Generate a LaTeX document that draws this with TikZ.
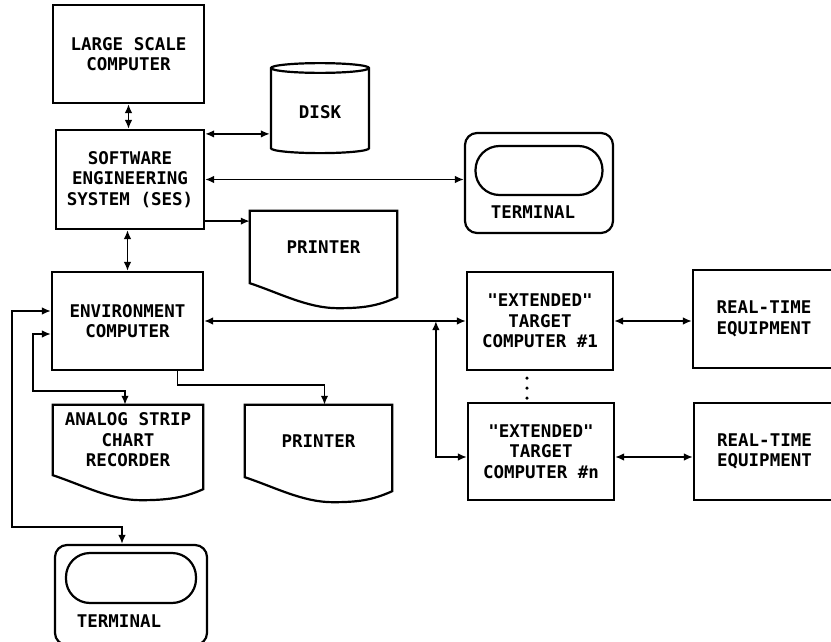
\documentclass[tikz,border=0pt]{standalone}
\usepackage{fontspec}
\setmonofont{DejaVu Sans Mono}
\usetikzlibrary{positioning,arrows.meta,shapes.geometric,calc}

% outline of a document symbol round a node
\newcommand{\docoutline}[1]{%
  \draw[line width=2.2pt] (#1.north west) -- (#1.north east) -- ($(#1.south east)+(0,14)$)
    .. controls +(-20,9) and +(25,0) .. ($(#1.south west)+(88,25)$)
    .. controls +(-30,0) and +(30,10) .. (#1.south west) -- cycle;}

\begin{document}
\begin{tikzpicture}[x=1pt, y=-1pt,
    every node/.style={font=\ttfamily\bfseries\fontsize{17.5}{20.5}\selectfont},
    box/.style={draw, line width=2.2pt, align=center, minimum width=150pt, minimum height=98pt},
    docbox/.style={align=center, minimum width=148pt, minimum height=72pt},
    term/.style={draw, line width=2.2pt, rounded corners=12pt, minimum width=150pt, minimum height=100pt},
    screen/.style={draw, line width=2.2pt, rounded corners=24pt, minimum width=128pt, minimum height=49pt},
    disk/.style={draw, line width=2.2pt, cylinder, shape border rotate=90, aspect=0.2, minimum width=98pt, minimum height=90pt},
    arrow/.style={-{Latex[length=9pt,width=7.5pt]}, line width=1.7pt},
    dbl/.style={{Latex[length=9pt,width=7.5pt]}-{Latex[length=9pt,width=7.5pt]}, line width=1.7pt}
]
\useasboundingbox (0,0) rectangle (831,642);
\clip (0,0) rectangle (831,642);
\fill[white] (0,0) rectangle (831,642);

% main column
\node[box, minimum width=151pt] (lsc) at (128.5,54) {LARGE SCALE\\COMPUTER};
\node[box, minimum width=148pt, minimum height=99pt] (ses) at (130,179.5) {SOFTWARE\\ENGINEERING\\SYSTEM (SES)};
\node[box, minimum width=151pt] (env) at (127.5,321) {ENVIRONMENT\\COMPUTER};

% peripherals of the SES
\node[disk] (disk) at (320,112) {DISK};
\node[term, minimum width=148pt] (term1) at (539,183) {};
\node[screen, minimum width=127pt, below=13pt of term1.north] (term1s) {};
\node[below=6pt of term1s, xshift=-6pt] (term1t) {TERMINAL};
\node[docbox, minimum width=147pt] (pr1) at (323.5,247) {PRINTER};
\docoutline{pr1}

% target computers and equipment
\node[box, minimum width=146pt] (tgt1) at (540,321) {"EXTENDED"\\TARGET\\COMPUTER \#1};
\node[box, minimum width=146pt, minimum height=97pt] (tgtn) at (541,451.5) {"EXTENDED"\\TARGET\\COMPUTER \#n};
\node[box, minimum width=142pt] (rt1) at (764,319) {REAL-TIME\\EQUIPMENT};
\node[box, minimum width=141pt, minimum height=97pt] (rt2) at (764.5,451.5) {REAL-TIME\\EQUIPMENT};
\foreach \d in {7,17,27}
  \fill ($(tgt1.south)+(-13,\d)$) circle (1.8pt);

% peripherals of the environment computer
\node[docbox, minimum width=150pt, minimum height=70pt] (ana) at (128,440) {ANALOG STRIP\\CHART\\RECORDER};
\docoutline{ana}
\node[docbox, minimum width=147pt] (pr2) at (318.5,441) {PRINTER};
\docoutline{pr2}
\node[term, minimum width=152pt] (term2) at (131,595) {};
\node[screen, minimum width=130pt, minimum height=50pt, below=8pt of term2.north] (term2s) {};
\node[below=7pt of term2s, xshift=-12pt] (term2t) {TERMINAL};

% helper points
\coordinate (sesd) at ([yshift=-5pt]ses.north east);
\coordinate (sesp) at ([yshift=9pt]ses.south east);
\coordinate (jn) at ([xshift=-30pt]tgt1.west);
\coordinate (tgtnw) at ([yshift=-5.5pt]tgtn.west);
\coordinate (tgtne) at ([yshift=-5.5pt]tgtn.east);

% connections
\draw[dbl] (lsc.south) -- (lsc.south |- ses.north);
\draw[dbl] (sesd) -- (sesd -| disk.west);
\draw[dbl] (ses.east) -- (ses.east -| term1.west);
\draw[arrow] (sesp) -- (sesp -| pr1.west);
\draw[dbl] (env.north |- ses.south) -- (env.north);
\draw[dbl] (env.east) -- (env.east -| tgt1.west);
\draw[dbl] (jn) |- (tgtnw);
\draw[dbl] (tgt1.east) -- (tgt1.east -| rt1.west);
\draw[dbl] (tgtne) -- (tgtne -| rt2.west);
\draw[dbl] ([yshift=-13pt]env.west) -- ++(-18,0) |- ($(ana.north)+(-3,-14)$) -- ($(ana.north)+(-3,0)$);
\draw[dbl] ([yshift=10pt]env.west) -- ++(-39,0) |- ($(term2.north)+(-9,-17)$) -- ($(term2.north)+(-9,0)$);
\draw[arrow] ([xshift=50pt]env.south) |- ($(pr2.north)+(6,-20)$) -- ($(pr2.north)+(6,0)$);
\end{tikzpicture}
\end{document}
